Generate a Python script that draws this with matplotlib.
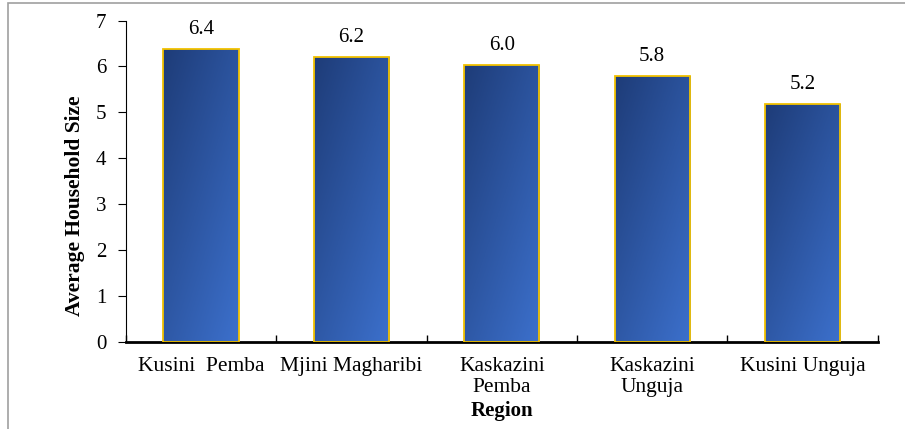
import numpy as np
import matplotlib
matplotlib.use("Agg")
import matplotlib.pyplot as plt
from matplotlib.colors import LinearSegmentedColormap
from matplotlib.patches import Rectangle

plt.rcParams['font.family'] = ['Liberation Serif', 'DejaVu Serif']

regions = ['Kusini  Pemba', 'Mjini Magharibi', 'Kaskazini\nPemba',
           'Kaskazini\nUnguja', 'Kusini Unguja']
avg_size = [6.38, 6.21, 6.04, 5.80, 5.18]

fig = plt.figure(figsize=(9.05, 4.29), dpi=100)
ax = fig.add_axes([0.139, 0.203, 0.831, 0.749])

x = np.arange(len(regions))
bars = ax.bar(x, avg_size, width=0.5, color='none', edgecolor='#f2c200',
              linewidth=1.3, zorder=3)

# diagonal gradient fill inside each bar: dark top-left, lighter bottom-right
cmap = LinearSegmentedColormap.from_list('blu', ['#1e3c78', '#3c70cc'])
gx, gy = np.meshgrid(np.linspace(0, 1, 60), np.linspace(0, 1, 200))
grad = 0.45 * gx + 0.55 * gy
for b in bars:
    x0, w, h = b.get_x(), b.get_width(), b.get_height()
    im = ax.imshow(grad, cmap=cmap, extent=[x0, x0 + w, 0, h],
                   aspect='auto', origin='upper', zorder=2,
                   interpolation='bilinear')
    im.set_clip_path(Rectangle((x0, 0), w, h, transform=ax.transData))

for xi, v in zip(x, avg_size):
    ax.text(xi, v + 0.22, '%.1f' % v, ha='center', va='bottom', fontsize=15)

ax.set_xlim(-0.5, len(regions) - 0.5)
ax.set_ylim(0, 7)
ax.set_yticks(range(8))
ax.tick_params(axis='y', labelsize=15, length=6, width=0.8, direction='out',
               pad=8)
ax.set_xticks(x)
ax.set_xticklabels(regions, fontsize=15.5, linespacing=1.1)
ax.tick_params(axis='x', length=0, pad=11)
ax.set_xticks(np.arange(-0.5, len(regions)), minor=True)
ax.tick_params(axis='x', which='minor', direction='in', length=5, width=1)

ax.spines['top'].set_visible(False)
ax.spines['right'].set_visible(False)
ax.spines['bottom'].set_linewidth(2)
ax.spines['left'].set_linewidth(0.8)

ax.set_ylabel('Average Household Size', fontsize=15.5, fontweight='bold')
ax.yaxis.set_label_coords(0.094, 0.52, transform=fig.transFigure)
ax.set_xlabel('Region', fontsize=15, fontweight='bold')
ax.xaxis.set_label_coords(0.555, 0.042, transform=fig.transFigure)
ax.xaxis.label.set_va('center')

# outer frame (top and left only visible)
fig.patches.append(Rectangle((0.009, -0.1), 1.2, 1.093,
                             transform=fig.transFigure, fill=False,
                             edgecolor='#a0a0a0', linewidth=1.2))

fig.savefig('out.png', dpi=100)
